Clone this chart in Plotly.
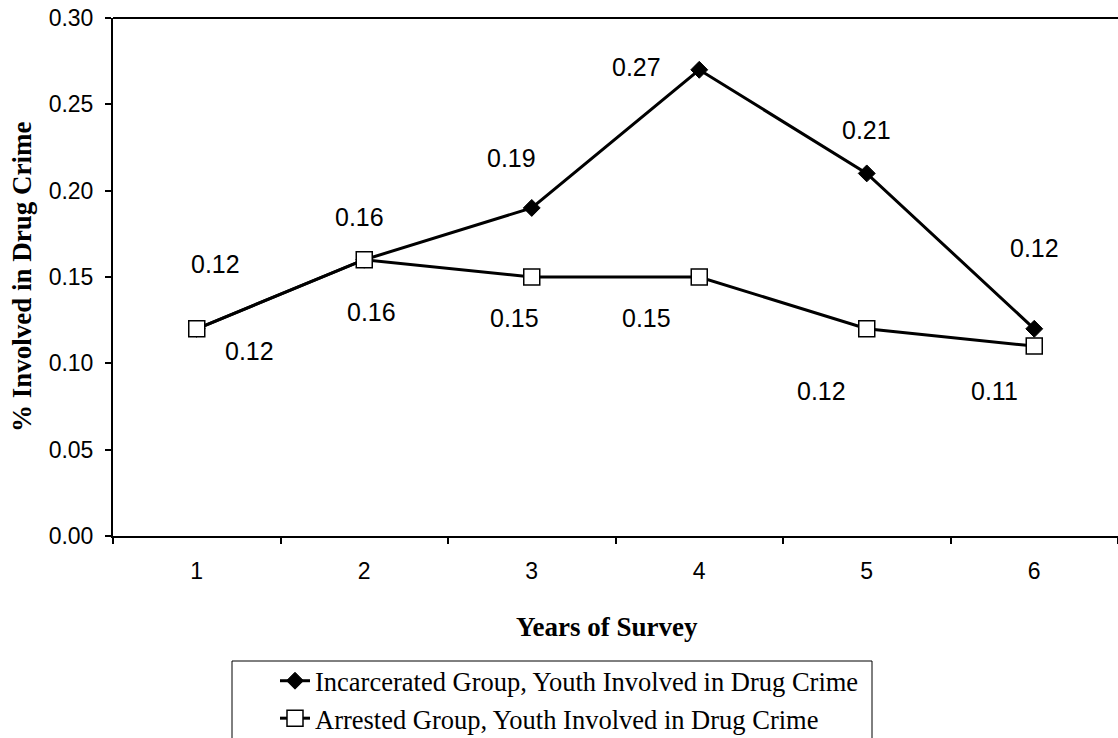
import plotly.graph_objects as go

# ---- data ----
years = ["1", "2", "3", "4", "5", "6"]
incarcerated = [0.12, 0.16, 0.19, 0.27, 0.21, 0.12]
arrested = [0.12, 0.16, 0.15, 0.15, 0.12, 0.11]
series_names = [
    "Incarcerated Group, Youth Involved in Drug Crime",
    "Arrested Group, Youth Involved in Drug Crime",
]
x_title = "Years of Survey"
y_title = "% Involved in Drug Crime"

# label offsets in pixels (dx, dy-up) — styling only
inc_label_offsets = [(19, 65), (-5, 43), (-20, 50), (-63, 3), (0, 43), (0, 81)]
arr_label_offsets = [(53, -22), (7, -52), (-17, -41), (-53, -41), (-45, -62), (-40, -45)]

W, H = 1118, 738
L, R, T, B = 113, 0, 18, 202
PW, PH = W - L - R, H - T - B


def px_x(px):
    return (px - L) / PW


def px_y(py):
    return (H - B - py) / PH


SANS = "Liberation Sans, Arial, sans-serif"
SERIF = "Liberation Serif, Times New Roman, serif"

fig = go.Figure()
fig.add_trace(go.Scatter(
    x=years, y=incarcerated, name=series_names[0], mode="lines+markers",
    line=dict(color="black", width=3),
    marker=dict(symbol="diamond", size=13, color="black",
                line=dict(color="black", width=1)),
))
fig.add_trace(go.Scatter(
    x=years, y=arrested, name=series_names[1], mode="lines+markers",
    line=dict(color="black", width=3),
    marker=dict(symbol="square", size=16, color="white",
                line=dict(color="black", width=1.5)),
))

annotations = []
for vals, offs in ((incarcerated, inc_label_offsets), (arrested, arr_label_offsets)):
    for i, (v, (dx, dy)) in enumerate(zip(vals, offs)):
        annotations.append(dict(
            x=i, y=v, xref="x", yref="y", text=f"{v:.2f}", showarrow=False,
            xshift=dx, yshift=dy, xanchor="center", yanchor="middle",
            font=dict(family=SANS, size=25, color="black"),
        ))

annotations.append(dict(
    x=px_x(607), y=px_y(627), xref="paper", yref="paper", text=f"<b>{x_title}</b>",
    showarrow=False, xanchor="center", yanchor="middle",
    font=dict(family=SERIF, size=27, color="black"),
))
annotations.append(dict(
    x=px_x(22), y=0.5, xref="paper", yref="paper", text=f"<b>{y_title}</b>",
    showarrow=False, xanchor="center", yanchor="middle", textangle=-90,
    font=dict(family=SERIF, size=27, color="black"),
))

shapes = [
    dict(type="line", xref="paper", yref="paper", x0=0, x1=1.02, y0=1, y1=1,
         line=dict(color="black", width=2)),
    dict(type="rect", xref="paper", yref="paper",
         x0=px_x(232), x1=px_x(872), y0=px_y(661), y1=px_y(760),
         line=dict(color="black", width=1), fillcolor="rgba(0,0,0,0)"),
]

fig.update_layout(
    width=W, height=H,
    margin=dict(l=L, r=R, t=T, b=B, pad=0, autoexpand=False),
    paper_bgcolor="white", plot_bgcolor="white",
    showlegend=True,
    legend=dict(
        x=px_x(275), y=px_y(657), xanchor="left", yanchor="top",
        bgcolor="rgba(0,0,0,0)", borderwidth=0,
        font=dict(family=SERIF, size=26.5, color="black"),
        tracegroupgap=0,
    ),
    annotations=annotations,
    shapes=shapes,
)
fig.update_xaxes(
    type="category", range=[-0.5, 5.5], tickson="boundaries",
    ticks="outside", ticklen=6, tickwidth=1.5, tickcolor="black",
    showline=True, linecolor="black", linewidth=2, showgrid=False, zeroline=False,
    tickfont=dict(family=SANS, size=23, color="black"), ticklabelstandoff=13,
)
fig.update_yaxes(
    range=[0, 0.30], dtick=0.05, tick0=0, tickformat=".2f",
    ticks="outside", ticklen=6, tickwidth=1.5, tickcolor="black",
    showline=True, linecolor="black", linewidth=2, showgrid=False, zeroline=False,
    tickfont=dict(family=SANS, size=23, color="black"), ticklabelstandoff=7,
)

fig.write_html("out.html", config={"displayModeBar": False},
               post_script="document.body.style.margin='0';")
